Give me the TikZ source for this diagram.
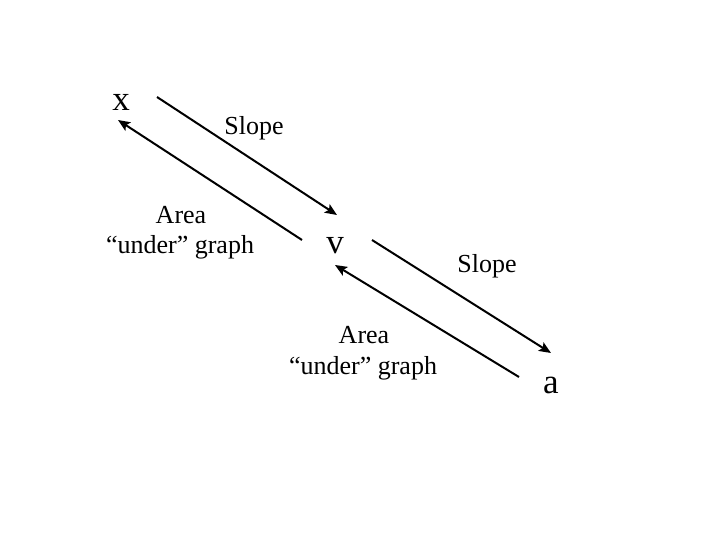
\documentclass[tikz,border=0pt]{standalone}
\usepackage{fontspec}
\setmainfont{Liberation Serif}
\usetikzlibrary{arrows.meta}
\begin{document}
\begin{tikzpicture}[x=1pt,y=-1pt,
  var/.style={font=\fontsize{35}{35}\selectfont, inner sep=0pt, anchor=base},
  lbl/.style={font=\fontsize{26}{31}\selectfont, inner sep=0pt, anchor=base},
  conn/.style={line width=2pt, -{Stealth[length=12pt,width=10pt,inset=2.5pt]}}]
\useasboundingbox[fill=white] (0,0) rectangle (720,540);
\node[var] (x) at (121,111) {x};
\node[var] (v) at (335,254) {v};
\node[var] (a) at (551,393) {a};
\node[lbl] (s1) at (254,135) {Slope};
\node[lbl] (s2) at (487,272) {Slope};
\node[lbl] (a1) at (181,223) {Area};
\node[lbl] (u1) at (180,253) {“under” graph};
\node[lbl] (a2) at (364,343) {Area};
\node[lbl] (u2) at (363,374) {“under” graph};
\coordinate (xs) at (157,97);
\coordinate (ve) at (337,215);
\coordinate (vs) at (302,240);
\coordinate (xe) at (118,120);
\coordinate (v2s) at (372,240);
\coordinate (ae) at (551,353);
\coordinate (as) at (519,377);
\coordinate (v2e) at (335,265);
\draw[conn] (xs) -- (ve);
\draw[conn] (vs) -- (xe);
\draw[conn] (v2s) -- (ae);
\draw[conn] (as) -- (v2e);
\end{tikzpicture}
\end{document}
